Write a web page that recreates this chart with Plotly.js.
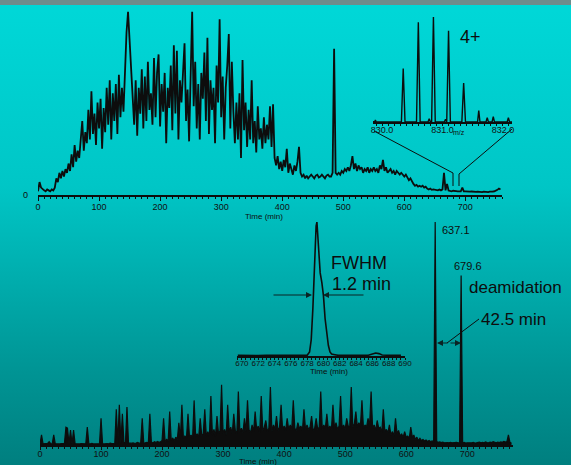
<!DOCTYPE html>
<html>
<head>
<meta charset="utf-8">
<script src="https://cdn.plot.ly/plotly-3.0.1.min.js"></script>
<style>
html,body{margin:0;padding:0;background:#007f7f;}
#chart{width:571px;height:465px;background:linear-gradient(to bottom,#00d8d8 0%,#00c6c6 40%,#00adad 60%,#009494 80%,#007f7f 100%);}
</style>
</head>
<body>
<div id="chart"></div>
<script>
// ---- DATA ----
// Top: total ion chromatogram, intensity (%) sampled every 2.5 min from 0 min
const topStep = 2.5;
const topIntensity = [
  2, 7, 4, 3, 2.5, 2, 3, 2.5, 2, 3,
  2.5, 4, 9, 7, 12, 9, 13, 10, 14, 12,
  17, 13, 22, 15, 27, 18, 24, 20, 30, 40,
  24, 34, 28, 46, 30, 56, 33, 44, 27, 50,
  36, 52, 25, 47, 34, 58, 38, 62, 30, 55,
  40, 60, 33, 65, 42, 58, 45, 70, 88, 99,
  82, 72, 48, 38, 62, 32, 58, 44, 68, 36,
  64, 40, 72, 46, 55, 38, 74, 42, 66, 76,
  37, 60, 45, 66, 28, 58, 47, 70, 35, 81,
  44, 78, 30, 62, 50, 68, 82, 40, 57, 29,
  64, 99, 48, 72, 36, 60, 30, 66, 52, 77,
  40, 85, 33, 62, 46, 58, 28, 70, 50, 95,
  42, 64, 30, 58, 70, 87, 36, 72, 45, 28,
  50, 30, 55, 20, 73, 35, 50, 26, 46, 30,
  62, 28, 40, 23, 48, 30, 36, 25, 42, 28,
  38, 30, 48, 26, 49, 20, 16, 21, 14, 18,
  13, 19, 15, 25, 12, 17, 14, 11, 16, 13,
  18, 26, 12, 10, 11, 9, 10.5, 9, 10, 11,
  10, 9, 10.5, 11, 9.5, 10, 11, 10, 9, 10.5,
  11, 10, 10, 12, 79, 12, 11, 12, 11, 13,
  12, 14, 13, 15, 13, 16, 21, 14, 17, 13,
  16, 14, 15, 12, 14, 13, 15, 12, 14, 13,
  15, 13, 14, 12, 16, 14, 19, 13, 15, 12,
  13, 14, 12, 13, 11, 13, 12, 11, 12, 11,
  10, 11, 9, 8, 9, 7, 6, 5, 5.5, 4.5,
  5, 4.5, 5, 4, 4.5, 3.5, 3, 3.5, 2.8, 3,
  2.8, 3, 2.5, 3, 2.5, 3, 12, 2.5, 6, 2.4,
  2.2, 2, 2.3, 2, 2.1, 2, 2.2, 2, 4, 2,
  2, 1.8, 2, 1.8, 1.9, 1.7, 1.8, 1.7, 1.8, 1.6,
  1.7, 1.6, 1.8, 1.6, 1.7, 1.6, 1.8, 1.7, 1.9, 2,
  2.2, 2.8, 3.5, 3
];

// Bottom: extracted ion chromatogram, intensity (%) sampled every 2.5 min from 0 min
const botStep = 2.5;
const botIntensity = [
  0.5, 4.5, 0.5, 0.6, 0.5, 0.7, 1.5, 0.6, 0.5, 4.5,
  0.6, 0.5, 0.7, 0.5, 0.6, 0.5, 0.7, 8, 7.6, 0.6,
  6.7, 0.5, 6.7, 0.6, 0.5, 0.7, 0.5, 0.6, 0.5, 0.6,
  0.5, 8, 0.6, 0.5, 0.7, 0.5, 0.6, 0.5, 0.7, 0.6,
  12, 0.6, 0.5, 0.7, 0.6, 0.5, 0.8, 0.6, 0.7, 0.6,
  16, 0.8, 18, 0.7, 14, 1.2, 0.8, 17, 0.9, 0.7,
  0.8, 1, 0.7, 0.9, 1.2, 0.8, 1, 12, 0.9, 1,
  1.2, 1, 14, 1.3, 0.9, 1.5, 1.1, 1.6, 1.2, 1.4,
  2, 12, 1.5, 2.5, 1.8, 15, 2.2, 3, 2, 3.5,
  2.5, 10, 3, 18, 2.8, 4, 3.2, 14, 3.5, 4.5,
  3, 20, 4, 5, 3.5, 12, 4.2, 5, 16, 4,
  6, 3.8, 22, 4.5, 7, 4, 13, 5, 6.5, 27,
  5, 7, 4.5, 18, 6, 8, 5, 14, 6.5, 5,
  24, 6, 7.5, 5.5, 12, 6, 20, 7, 5.5, 9,
  6, 15, 7, 8.5, 5.5, 22, 6.5, 8, 11, 6,
  7.5, 26, 6, 9, 7, 13, 6.5, 8, 18, 7,
  8.5, 6.5, 12, 7, 9, 7, 20, 7.5, 6.5, 10,
  7.5, 8.5, 6.5, 16, 7, 9, 7, 8, 13, 6.5,
  7.5, 12, 7, 8, 24, 7, 9, 7.5, 14, 7,
  8.5, 7, 18, 7.5, 10, 7, 8.5, 22, 7.5, 9,
  7, 12, 8.5, 8, 26, 8, 9.5, 15, 8, 10,
  8.5, 20, 7.5, 9, 8, 12, 8.5, 24, 7.5, 9,
  6.5, 11, 7.5, 8, 5.5, 16, 6, 7, 5.5, 9,
  4.5, 6, 4, 12, 5, 6.5, 4, 5, 3.5, 6,
  3.5, 4, 3, 8, 3.5, 4.5, 2.5, 3.5, 2, 3,
  2, 2.5, 1.8, 2.2, 1.6, 2, 1.5, 1.8, 1.4, 100,
  1.5, 1.2, 1.4, 1.1, 1.3, 1, 1.2, 1.1, 1, 1.2,
  1, 1.1, 1, 1.2, 1, 1.1, 76, 1, 1.2, 0.9,
  1, 0.9, 1.1, 1, 1.2, 0.9, 1, 1.1, 1.3, 1,
  1.2, 1, 1.4, 1.1, 1, 1.3, 1.1, 1.5, 1.2, 1,
  1.3, 1.1, 1.4, 1.2, 1.6, 1.3, 1.5, 4.5, 1.2, 0.8
];

// Inset: mass spectrum of the 4+ ion
const mzValues = [829.85, 829.88, 829.89, 829.90,
  830.32, 830.35, 830.38,
  830.57, 830.60, 830.63,
  830.76, 830.78, 830.80,
  830.82, 830.85, 830.88,
  831.03, 831.05, 831.07,
  831.07, 831.10, 831.13,
  831.32, 831.35, 831.38,
  831.58, 831.60, 831.62,
  831.72, 831.74, 831.76,
  831.82, 831.84, 831.86,
  832.07, 832.09, 832.11, 832.15];
const msIntensity = [0.3, 0.5, 2, 0.3,
  0, 51, 0,
  0, 95, 0,
  0, 3, 0,
  0, 100, 0,
  0, 2.5, 0,
  0, 87, 0,
  0, 37, 0,
  0, 11, 0,
  0, 4, 0,
  0, 5, 0,
  0, 4, 0, 0];
const mzTickVals = [830, 831, 832];
const mzTickText = ['830.0', '831.0', '832.0'];

// Inset: single peak (FWHM 1.2 min)
const peakTime = [669.5, 670, 671, 672, 673, 674, 675, 676, 677, 677.6, 678.0, 678.3, 678.5, 678.7, 678.85,
  679.0, 679.1, 679.2, 679.3, 679.4, 679.6, 679.8, 680.0, 680.2, 680.4, 680.6, 680.8, 681.0, 681.4, 681.8,
  682.5, 683.5, 684.5, 685.5, 686.0, 686.4, 686.8, 687.2, 688, 689, 689.5];
const peakIntensity = [0.5, 0.4, 0.6, 0.4, 0.5, 0.4, 0.6, 0.5, 0.4, 0.6, 0.5, 3, 12, 35, 60,
  85, 97, 100, 92, 78, 62, 55, 45, 28, 16, 8, 3, 1.5, 1, 0.5,
  0.6, 0.4, 0.5, 0.6, 1.5, 2.2, 1.8, 0.8, 0.5, 0.4, 0.5];

// Labels
const peakLabels = ['637.1', '679.6'];
const noteTexts = ['FWHM', '1.2 min', 'deamidation', '42.5 min', '4+'];
const axisTitle = 'Time (min)';

// ---- LAYOUT HELPERS ----
const W = 571, H = 465;
const fx = p => p / W;
const fy = p => 1 - p / H;
const FONT = 'Liberation Sans, Arial, sans-serif';
const INK = '#0d0d0d';

const topTime = topIntensity.map((_, i) => i * topStep);
const botTime = botIntensity.map((_, i) => i * botStep);

const traces = [
  {x: topTime, y: topIntensity, xaxis: 'x', yaxis: 'y', type: 'scatter', mode: 'lines',
   line: {color: INK, width: 1.8}, hoverinfo: 'skip'},
  {x: botTime, y: botIntensity, xaxis: 'x2', yaxis: 'y2', type: 'scatter', mode: 'lines',
   fill: 'tozeroy', fillcolor: INK, line: {color: INK, width: 1.2}, hoverinfo: 'skip'},
  {x: mzValues, y: msIntensity, xaxis: 'x3', yaxis: 'y3', type: 'scatter', mode: 'lines',
   line: {color: INK, width: 1.4}, hoverinfo: 'skip'},
  {x: peakTime, y: peakIntensity, xaxis: 'x4', yaxis: 'y4', type: 'scatter', mode: 'lines',
   line: {color: INK, width: 1.6}, hoverinfo: 'skip'}
];

function xax(dom, rng, anchor, extra) {
  return Object.assign({
    domain: dom, range: rng, anchor: anchor,
    showline: true, linecolor: INK, linewidth: 1.5,
    ticks: 'outside', ticklen: 3, tickwidth: 1, tickcolor: INK,
    tickangle: 0,
    tickfont: {family: FONT, size: 9, color: '#111'},
    showgrid: false, zeroline: false, fixedrange: true
  }, extra);
}
function yax(dom) {
  return {domain: dom, range: [0, 100], visible: false, showgrid: false, zeroline: false, fixedrange: true};
}

const layout = {
  width: W, height: H,
  margin: {l: 0, r: 0, t: 0, b: 0},
  paper_bgcolor: 'rgba(0,0,0,0)', plot_bgcolor: 'rgba(0,0,0,0)',
  showlegend: false,
  xaxis: xax([fx(38), fx(502)], [0, 760], 'y', {tick0: 0, dtick: 100, ticklen: 4, ticklabelstandoff: -1,
    minor: {dtick: 10, ticklen: 2, ticks: 'outside', tickcolor: INK}}),
  yaxis: yax([fy(195), fy(10)]),
  xaxis2: xax([fx(40), fx(513)], [0, 775], 'y2', {tick0: 0, dtick: 100, ticklabelstandoff: -3,
    minor: {dtick: 10, ticklen: 2, ticks: 'outside', tickcolor: INK}}),
  yaxis2: yax([fy(445), fy(222)]),
  xaxis3: xax([fx(373), fx(512)], [829.85, 832.15], 'y3', {tickvals: mzTickVals, ticktext: mzTickText,
    ticklen: 2, ticklabelstandoff: -3, minor: {dtick: 0.1, ticklen: 2, ticks: 'outside', tickcolor: INK}}),
  yaxis3: yax([fy(122), fy(17)]),
  xaxis4: xax([fx(237), fx(405)], [669.4, 690], 'y4', {tick0: 670, dtick: 2, ticklen: 2,
    ticklabelstandoff: -3, tickfont: {family: FONT, size: 8, color: '#111'},
    minor: {dtick: 0.5, ticklen: 2, ticks: 'outside', tickcolor: INK}}),
  yaxis4: yax([fy(356), fy(222)]),
  shapes: [
    {type: 'rect', xref: 'paper', yref: 'paper', x0: 0, x1: 1, y0: fy(5), y1: 1,
     fillcolor: '#6f8c8c', line: {width: 0}},
    {type: 'line', xref: 'paper', yref: 'paper', x0: fx(374), y0: fy(131), x1: fx(453), y1: fy(173), line: {color: INK, width: 1}},
    {type: 'line', xref: 'paper', yref: 'paper', x0: fx(453), y0: fy(173), x1: fx(453), y1: fy(186), line: {color: INK, width: 1}},
    {type: 'line', xref: 'paper', yref: 'paper', x0: fx(512), y0: fy(129), x1: fx(459), y1: fy(174), line: {color: INK, width: 1}},
    {type: 'line', xref: 'paper', yref: 'paper', x0: fx(459), y0: fy(174), x1: fx(459), y1: fy(186), line: {color: INK, width: 1}},
    {type: 'line', xref: 'paper', yref: 'paper', x0: fx(447), y0: fy(343), x1: fx(479), y1: fy(319), line: {color: INK, width: 1}}
  ],
  annotations: []
};

function txt(text, x, y, size, extra) {
  return Object.assign({text: text, xref: 'paper', yref: 'paper', x: fx(x), y: fy(y),
    xanchor: 'center', yanchor: 'middle', showarrow: false,
    font: {family: FONT, size: size, color: INK}}, extra || {});
}
function arrow(x, y, ax) {
  return {text: '', xref: 'paper', yref: 'paper', x: fx(x), y: fy(y), ax: ax, ay: 0,
    showarrow: true, arrowhead: 2, arrowsize: 1, arrowwidth: 1.2, arrowcolor: '#0a2424'};
}

layout.annotations.push(
  txt('0', 25, 195, 9),
  txt(axisTitle, 264, 216, 8),
  txt(axisTitle, 258, 461, 8),
  txt(axisTitle, 329, 371, 8),
  txt('m/z', 459, 132, 7),
  txt(noteTexts[4], 470, 37, 18),
  txt(noteTexts[0], 359, 263, 18),
  txt(noteTexts[1], 361, 284, 18),
  txt(peakLabels[0], 456, 230, 11),
  txt(peakLabels[1], 468, 266, 11),
  txt(noteTexts[2], 515, 287, 17),
  txt(noteTexts[3], 513, 319, 17),
  arrow(312, 295, -40),
  arrow(323, 295, 42),
  arrow(437, 343, 12),
  arrow(461, 343, -12)
);

Plotly.newPlot('chart', traces, layout, {displayModeBar: false, staticPlot: true});
</script>
</body>
</html>
